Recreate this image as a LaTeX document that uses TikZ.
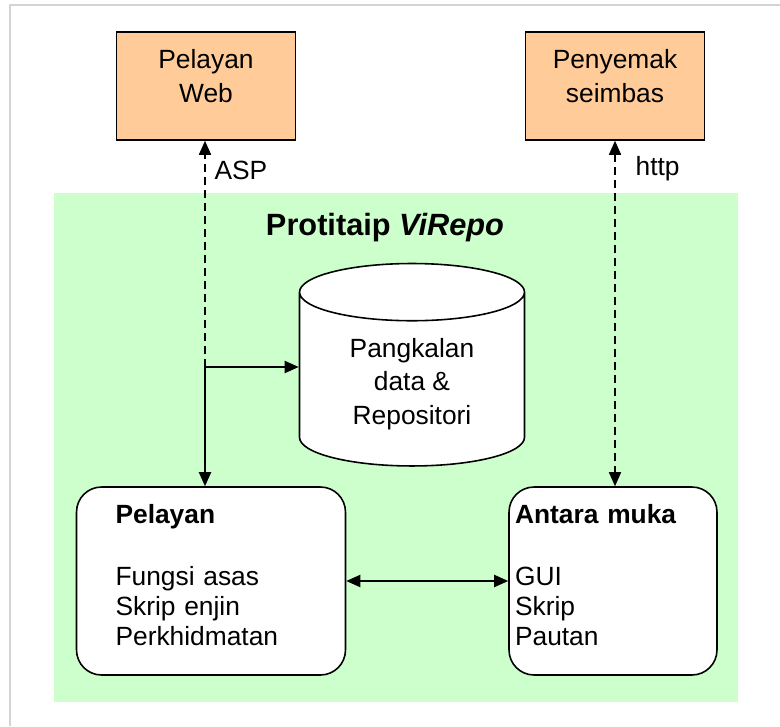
\documentclass[tikz,border=0pt]{standalone}
\usepackage{fontspec}
\setmainfont{Liberation Sans}
\usetikzlibrary{shapes.geometric,arrows.meta}
\definecolor{peach}{HTML}{FFCC99}
\definecolor{mint}{HTML}{CCFFCC}
\definecolor{framegray}{HTML}{D4D4D4}

\begin{document}
\begin{tikzpicture}[x=0.02cm, y=-0.02cm,
    font=\fontsize{15}{19}\selectfont,
    >={Triangle[length=2.8mm, width=2.4mm]},
    extbox/.style={draw, fill=peach, line width=0.9pt, minimum width=3.58cm, minimum height=2.16cm},
    modbox/.style={draw, fill=white, line width=0.9pt, rounded corners=0.5cm, minimum height=3.76cm, align=left, font=\fontsize{15}{17}\selectfont},
    link/.style={line width=1.1pt},
    weblink/.style={line width=0.9pt, dash pattern=on 1.6mm off 1mm}]
    \useasboundingbox (0,0) rectangle (780,726);
    \draw[framegray, line width=1.2pt] (10,726) -- (10,5) -- (780,5);

    % prototype area
    \fill[mint] (54,193) rectangle (738,702);
    \node[font=\fontsize{17.5}{20}\selectfont\bfseries] (title) at (385,228) {Protitaip \textit{ViRepo}};

    % nodes: web, checker
    \node[extbox, label={[align=center, yshift=0.2cm]center:Pelayan\\Web}] (web) at (206,86) {};
    \node[extbox, label={[align=center, yshift=0.2cm]center:Penyemak\\seimbas}] (checker) at (615,86) {};
    % nodes: db, server, ui
    \node[draw, fill=white, cylinder, shape border rotate=90, aspect=0.42, minimum width=4.5cm, minimum height=4.05cm, align=center, line width=0.9pt] (db) at (412,384) {Pangkalan\\data \&\\Repositori};
    \node[modbox, minimum width=5.38cm, text width=3.82cm] (server) at (211,581) {\textbf{Pelayan}\\[18pt]Fungsi asas\\Skrip enjin\\Perkhidmatan\\[-10pt]\mbox{}};
    \node[modbox, minimum width=4.16cm, text width=3.92cm, inner xsep=1pt] (ui) at (613,581) {\textbf{Antara muka}\\[18pt]GUI\\Skrip\\Pautan\\[-10pt]\mbox{}};

    % edges: fork-web, fork-db, fork-server
    \coordinate (fork) at (205,367);
    \draw[weblink, ->] (fork) -- node[pos=0.87, right, inner xsep=5pt] {ASP} (web.south -| fork);
    \draw[link, ->] (fork) -- (db.west |- fork);
    \draw[link, ->] (fork) -- (server.north -| fork);
    % edges: checker-ui, server-ui
    \draw[weblink, <->] (checker.south) -- node[pos=0.08, right, xshift=0.28cm] {http} (ui.north -| checker.south);
    \draw[link, <->] (server.east) -- (ui.west);
\end{tikzpicture}
\end{document}
